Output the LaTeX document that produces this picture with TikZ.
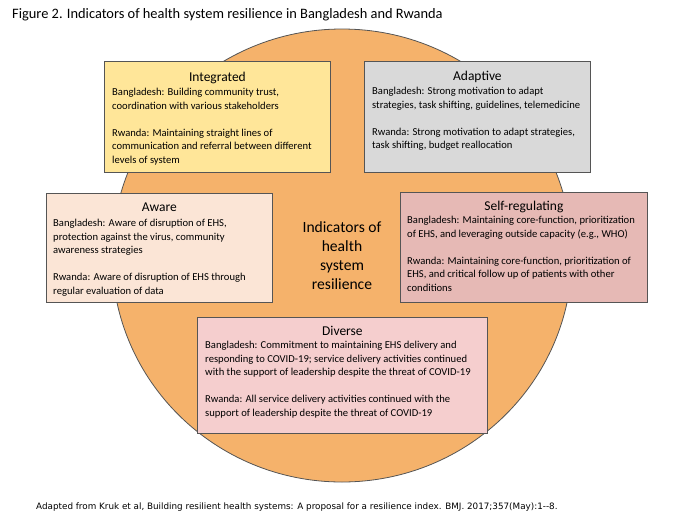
\documentclass[tikz,border=0pt]{standalone}
\usepackage{fontspec}
\setmainfont{Carlito}
\newfontfamily\notefont{DejaVu Sans}
\usetikzlibrary{positioning,shapes.geometric}

\definecolor{ringorange}{RGB}{245,178,107}
\definecolor{edgegray}{RGB}{85,85,85}
\definecolor{integfill}{RGB}{255,230,153}
\definecolor{adaptfill}{RGB}{217,217,217}
\definecolor{awarefill}{RGB}{251,229,214}
\definecolor{selffill}{RGB}{230,185,181}
\definecolor{diversefill}{RGB}{245,206,206}

\tikzset{
  panel/.style={draw=edgegray,line width=0.8pt,anchor=north west,inner sep=0pt},
  head/.style={font=\fontsize{13.5}{16}\selectfont,inner sep=0pt},
  body/.style={font=\fontsize{10.6}{13.5}\selectfont,align=left,inner sep=0pt},
}

\begin{document}
\begin{tikzpicture}[x=1pt,y=-1pt]
    \useasboundingbox (0,0) rectangle (700,525);
    \node[anchor=west,inner sep=0pt,font=\fontsize{14.4}{16}\selectfont] (fig) at (12,15) {Figure 2. Indicators of health system resilience in Bangladesh and Rwanda};
    \node[ellipse,draw=edgegray,line width=0.8pt,fill=ringorange,minimum width=460pt,minimum height=453pt,inner sep=0pt,align=center,font=\fontsize{15.6}{19}\selectfont] (ring) at (342,255.5) {Indicators of\\health\\system\\resilience};

    \node[panel,fill=integfill,minimum width=226pt,minimum height=111pt] (integ) at (104,61) {};
    \node[head,below=11pt of integ.north,anchor=north] (integ head) {Integrated};
    \node[body,below right=27pt and 8pt of integ.north west,anchor=north west] (integ text) {Bangladesh: Building community trust,\\coordination with various stakeholders\\[13.5pt]Rwanda: Maintaining straight lines of\\communication and referral between different\\levels of system};

    \node[panel,fill=adaptfill,minimum width=226pt,minimum height=111pt] (adapt) at (364,61) {};
    \node[head,below=10pt of adapt.north,anchor=north] (adapt head) {Adaptive};
    \node[body,below right=26pt and 8pt of adapt.north west,anchor=north west] (adapt text) {Bangladesh: Strong motivation to adapt\\strategies, task shifting, guidelines, telemedicine\\[13.5pt]Rwanda: Strong motivation to adapt strategies,\\task shifting, budget reallocation};

    \node[panel,fill=awarefill,minimum width=226pt,minimum height=109pt] (aware) at (46,193) {};
    \node[head,below=10pt of aware.north,anchor=north] (aware head) {Aware};
    \node[body,below right=26pt and 7pt of aware.north west,anchor=north west] (aware text) {Bangladesh: Aware of disruption of EHS,\\protection against the virus, community\\awareness strategies\\[13.5pt]Rwanda: Aware of disruption of EHS through\\regular evaluation of data};

    \node[panel,fill=selffill,minimum width=247pt,minimum height=110pt] (selfreg) at (400,192) {};
    \node[head,below=9pt of selfreg.north,anchor=north] (selfreg head) {Self-regulating};
    \node[body,below right=24pt and 7pt of selfreg.north west,anchor=north west] (selfreg text) {Bangladesh: Maintaining core-function, prioritization\\of EHS, and leveraging outside capacity (e.g., WHO)\\[13.5pt]Rwanda: Maintaining core-function, prioritization of\\EHS, and critical follow up of patients with other\\conditions};

    \node[panel,fill=diversefill,minimum width=290pt,minimum height=116pt] (diverse) at (197,317) {};
    \node[head,below=9pt of diverse.north,anchor=north] (diverse head) {Diverse};
    \node[body,below right=24pt and 8pt of diverse.north west,anchor=north west] (diverse text) {Bangladesh: Commitment to maintaining EHS delivery and\\responding to COVID-19; service delivery activities continued\\with the support of leadership despite the threat of COVID-19\\[13.5pt]Rwanda: All service delivery activities continued with the\\support of leadership despite the threat of COVID-19};

    \node[anchor=west,inner sep=0pt,font=\notefont\fontsize{8.8}{10}\selectfont] (source) at (36,507) {Adapted from Kruk et al, Building resilient health systems: A proposal for a resilience index. BMJ. 2017;357(May):1--8.};
\end{tikzpicture}
\end{document}
